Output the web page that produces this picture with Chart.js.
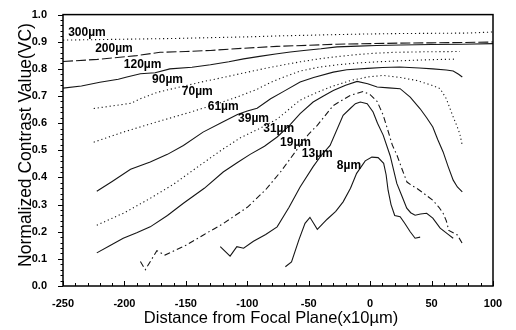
<!DOCTYPE html>
<html>
<head>
<meta charset="utf-8">
<script src="https://cdn.jsdelivr.net/npm/chart.js@4/dist/chart.umd.min.js"></script>
<style>
  html, body { margin: 0; padding: 0; background: #fff; }
  #c { display: block; }
</style>
</head>
<body>
<canvas id="c" width="516" height="330"></canvas>
<script>
// Normalized contrast value vs. distance from the focal plane, one curve per pinhole size.

const xTickValues = [-250, -200, -150, -100, -50, 0, 50, 100];
const yTickValues = [0.0, 0.1, 0.2, 0.3, 0.4, 0.5, 0.6, 0.7, 0.8, 0.9, 1.0];

const curveNames = ['300µm', '200µm', '120µm', '90µm', '70µm', '61µm', '39µm', '31µm', '19µm', '13µm', '8µm'];

const x300 = [-250, -220, -190, -160, -130, -100, -70, -40, -10, 20, 50, 80, 100];
const y300 = [0.906, 0.908, 0.910, 0.912, 0.915, 0.918, 0.922, 0.925, 0.928, 0.930, 0.931, 0.932, 0.936];

const x200 = [-250, -222, -190, -171, -150, -130, -103, -76, -50, -27, 0, 25, 50, 75, 100];
const y200 = [0.827, 0.835, 0.849, 0.861, 0.864, 0.868, 0.876, 0.883, 0.887, 0.891, 0.893, 0.895, 0.896, 0.897, 0.899];

const x120 = [-250, -235, -220, -205, -198, -187, -175, -163, -145, -130, -115, -103, -90, -77, -65, -54, -40, -27, -10, 5, 25, 50, 75, 100];
const y120 = [0.729, 0.737, 0.751, 0.762, 0.770, 0.782, 0.786, 0.800, 0.806, 0.815, 0.826, 0.837, 0.846, 0.855, 0.862, 0.868, 0.874, 0.881, 0.884, 0.886, 0.888, 0.890, 0.891, 0.893];

const x90 = [-225, -195, -187, -173, -155, -138, -120, -106, -81, -57, -40, -27, -10, 5, 20, 45, 73];
const y90 = [0.654, 0.673, 0.690, 0.714, 0.733, 0.751, 0.768, 0.782, 0.806, 0.826, 0.838, 0.845, 0.853, 0.858, 0.861, 0.863, 0.864];

const x70 = [-225, -201, -174, -146, -124, -106, -92, -81, -69, -57, -42, -27, -10, 6, 25, 50, 70];
const y70 = [0.530, 0.567, 0.604, 0.641, 0.672, 0.700, 0.725, 0.750, 0.772, 0.792, 0.806, 0.815, 0.822, 0.826, 0.830, 0.834, 0.836];

const x61 = [-222.5, -210, -195, -179, -165, -152, -136, -120, -108, -100, -92, -81, -70, -57, -46, -30, -19, -2, 10, 24, 40, 51, 62, 67.6, 72, 75];
const y61 = [0.349, 0.385, 0.430, 0.457, 0.485, 0.518, 0.567, 0.604, 0.632, 0.645, 0.655, 0.690, 0.718, 0.752, 0.768, 0.788, 0.797, 0.802, 0.805, 0.807, 0.803, 0.800, 0.796, 0.792, 0.780, 0.770];

const x39 = [-222.5, -200, -179, -160, -140, -120, -106, -90, -75.7, -65, -57, -43, -30, -16, -2.4, 10.6, 25, 38, 50, 57, 62, 67, 71, 73, 75];
const y39 = [0.224, 0.270, 0.323, 0.375, 0.440, 0.504, 0.545, 0.580, 0.615, 0.655, 0.685, 0.714, 0.737, 0.757, 0.770, 0.776, 0.768, 0.757, 0.740, 0.727, 0.690, 0.630, 0.585, 0.560, 0.518];

const x31 = [-222.5, -212, -201, -190, -179, -165, -152, -135, -119.6, -108, -97.7, -86, -75.7, -66, -57, -46.4, -38, -30, -20, -10.6, -2, 5.7, 15, 24.4, 32.6, 40.7, 46, 51, 55, 59.4, 63.5, 67.6, 71, 75];
const y31 = [0.122, 0.148, 0.176, 0.196, 0.218, 0.260, 0.305, 0.360, 0.420, 0.455, 0.485, 0.515, 0.549, 0.590, 0.635, 0.678, 0.700, 0.720, 0.740, 0.754, 0.745, 0.733, 0.730, 0.727, 0.696, 0.653, 0.620, 0.586, 0.540, 0.494, 0.440, 0.390, 0.365, 0.347];

const x19 = [-187, -183, -173.6, -167, -150, -135, -119.6, -100, -85, -73, -60, -50, -43, -30, -16.3, -5.7, 0, 5.7, 10.6, 14, 18, 22, 26, 30, 34, 38, 44, 51, 56, 59.4, 62, 64, 68, 71, 75.7];
const y19 = [0.090, 0.060, 0.130, 0.114, 0.150, 0.190, 0.230, 0.290, 0.355, 0.420, 0.500, 0.560, 0.592, 0.665, 0.702, 0.717, 0.705, 0.680, 0.630, 0.580, 0.520, 0.480, 0.430, 0.383, 0.370, 0.360, 0.340, 0.316, 0.290, 0.268, 0.240, 0.205, 0.195, 0.188, 0.151];

const x13 = [-122, -114, -108.5, -103, -95, -85, -75.7, -66, -57, -46.4, -40, -32.6, -22, -16, -12, -8, -2.4, 2.4, 6, 10.6, 16.3, 21.7, 26, 29.8, 33, 36.6, 41, 46, 51, 57, 63.5, 67.6];
const y13 = [0.145, 0.110, 0.145, 0.139, 0.165, 0.190, 0.218, 0.290, 0.365, 0.440, 0.480, 0.518, 0.629, 0.655, 0.672, 0.678, 0.672, 0.641, 0.600, 0.556, 0.480, 0.378, 0.330, 0.287, 0.270, 0.261, 0.265, 0.268, 0.250, 0.213, 0.190, 0.176];

const x8 = [-69, -64, -58, -53, -49, -43, -35, -28, -22, -16, -11, -4, 1.4, 6.5, 11, 13, 14.6, 17, 20, 24.4, 28, 32.6, 36.6, 40.7];
const y8 = [0.071, 0.089, 0.170, 0.231, 0.253, 0.209, 0.246, 0.275, 0.310, 0.360, 0.415, 0.461, 0.475, 0.473, 0.452, 0.410, 0.353, 0.300, 0.260, 0.255, 0.232, 0.200, 0.176, 0.180];

// Where each curve name is written (data units: left edge, vertical centre).
const labelSpots = [
  [-245.8, 0.934], [-223.8, 0.874], [-200.5, 0.815], [-177.5, 0.762], [-153.3, 0.717],
  [-132.2, 0.662], [-107.5, 0.615], [-87.0, 0.580], [-73.3, 0.527], [-55.6, 0.488], [-27.1, 0.442]
];

const DOT = [1.2, 2.8];
const DASH = [10, 3];
const DASHDOT = [6, 3, 1.5, 3];
const SOLID = [];

const curveTable = [
  [x300, y300, DOT], [x200, y200, DASH], [x120, y120, SOLID], [x90, y90, DOT],
  [x70, y70, DOT], [x61, y61, SOLID], [x39, y39, DOT], [x31, y31, SOLID],
  [x19, y19, DASHDOT], [x13, y13, SOLID], [x8, y8, SOLID]
];

const FONT = "'Liberation Sans', Arial, Helvetica, sans-serif";

const datasets = curveTable.map(([xs, ys, dash], i) => ({
  label: curveNames[i],
  data: xs.map((x, k) => ({ x, y: ys[k] })),
  showLine: true,
  borderColor: '#161616',
  borderWidth: 1.1,
  borderDash: dash,
  pointRadius: 0,
  pointHoverRadius: 0,
  tension: 0,
  fill: false
}));

// Frame, tick marks, axis titles and curve names.
const decorations = {
  id: 'decorations',
  afterDatasetsDraw(chart) {
    const { ctx, scales: { x, y } } = chart;
    ctx.save();
    ctx.fillStyle = '#000';
    ctx.font = `bold 12px ${FONT}`;
    ctx.textAlign = 'left';
    ctx.textBaseline = 'middle';
    curveNames.forEach((name, i) => {
      const [lx, ly] = labelSpots[i];
      ctx.fillText(name, x.getPixelForValue(lx), y.getPixelForValue(ly));
    });
    ctx.restore();
  },
  afterDraw(chart) {
    const { ctx, chartArea: a, scales: { x, y } } = chart;
    ctx.save();
    ctx.strokeStyle = '#000';
    ctx.lineWidth = 1.5;
    ctx.strokeRect(a.left, a.top, a.right - a.left, a.bottom - a.top);

    ctx.lineWidth = 1;
    ctx.beginPath();
    // x ticks point up into the plot, minor every 10
    for (let v = x.min; v <= x.max + 1e-9; v += 10) {
      const px = Math.round(x.getPixelForValue(v)) + 0.5;
      const len = Math.abs(v % 50) < 1e-9 ? 5 : 3;
      ctx.moveTo(px, a.bottom);
      ctx.lineTo(px, a.bottom - len);
    }
    // y ticks point out to the left, minor every 0.02
    for (let k = 0; k <= 50; k++) {
      const v = k * 0.02;
      const py = Math.round(y.getPixelForValue(v)) + 0.5;
      const len = k % 5 === 0 ? 5 : 2.5;
      ctx.moveTo(a.left, py);
      ctx.lineTo(a.left - len, py);
    }
    ctx.stroke();

    ctx.fillStyle = '#000';
    ctx.font = `16.5px ${FONT}`;
    ctx.textAlign = 'center';
    ctx.textBaseline = 'alphabetic';
    ctx.fillText('Distance from Focal Plane(x10µm)', 271, 323);

    ctx.translate(30.5, 145);
    ctx.rotate(-Math.PI / 2);
    ctx.font = `17.5px ${FONT}`;
    ctx.fillText('Normalized Contrast Value(VC)', 0, 0);
    ctx.restore();
  }
};

new Chart(document.getElementById('c'), {
  type: 'scatter',
  data: { datasets },
  options: {
    responsive: false,
    animation: false,
    devicePixelRatio: 1,
    layout: { padding: { top: 14, right: 23, left: 0, bottom: 0 } },
    plugins: { legend: { display: false }, tooltip: { enabled: false } },
    scales: {
      x: {
        type: 'linear',
        min: -250,
        max: 100,
        grid: { display: false },
        border: { display: false },
        afterBuildTicks: s => { s.ticks = xTickValues.map(v => ({ value: v })); },
        afterFit: s => { s.height = 44; },
        ticks: {
          color: '#000',
          font: { family: FONT, size: 11, weight: 'bold' },
          padding: 3,
          maxRotation: 0,
          autoSkip: false,
          callback: v => String(v)
        }
      },
      y: {
        type: 'linear',
        min: 0,
        max: 1,
        grid: { display: false },
        border: { display: false },
        afterBuildTicks: s => { s.ticks = yTickValues.map(v => ({ value: v })); },
        afterFit: s => { s.width = 63; },
        ticks: {
          color: '#000',
          font: { family: FONT, size: 11, weight: 'bold' },
          padding: 8,
          autoSkip: false,
          callback: v => Number(v).toFixed(1)
        }
      }
    }
  },
  plugins: [decorations]
});
</script>
</body>
</html>
